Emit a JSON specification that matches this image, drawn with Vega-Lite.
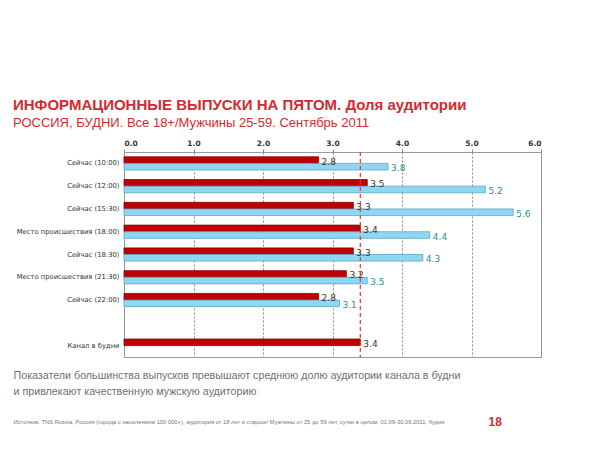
{
  "$schema": "https://vega.github.io/schema/vega-lite/v6.json",
  "width": 417,
  "height": 205,
  "autosize": {"type": "none"},
  "padding": {"left": 124, "top": 152, "right": 62, "bottom": 95},
  "background": "white",
  "title": {
    "text": "ИНФОРМАЦИОННЫЕ ВЫПУСКИ НА ПЯТОМ. Доля аудитории",
    "subtitle": "РОССИЯ, БУДНИ. Все 18+/Мужчины 25-59. Сентябрь 2011",
    "anchor": "start",
    "frame": "group",
    "dx": -111,
    "offset": 9,
    "font": "Liberation Sans",
    "fontSize": 15,
    "fontWeight": "bold",
    "color": "#d42a2f",
    "subtitleFont": "Liberation Sans",
    "subtitleFontSize": 13,
    "subtitleColor": "#d42a2f",
    "subtitlePadding": 4
  },
  "config": {
    "view": {"stroke": "#9a9a9a", "strokeWidth": 1},
    "axis": {"labelFont": "DejaVu Sans", "titleFont": "Liberation Sans"}
  },
  "data": {
    "values": [
      {"label": "Сейчас (10:00)", "series": "Все 18+", "value": 2.8},
      {"label": "Сейчас (10:00)", "series": "Мужчины 25-59", "value": 3.8},
      {"label": "Сейчас (12:00)", "series": "Все 18+", "value": 3.5},
      {"label": "Сейчас (12:00)", "series": "Мужчины 25-59", "value": 5.2},
      {"label": "Сейчас (15:30)", "series": "Все 18+", "value": 3.3},
      {"label": "Сейчас (15:30)", "series": "Мужчины 25-59", "value": 5.6},
      {"label": "Место происшествия (18:00)", "series": "Все 18+", "value": 3.4},
      {"label": "Место происшествия (18:00)", "series": "Мужчины 25-59", "value": 4.4},
      {"label": "Сейчас (18:30)", "series": "Все 18+", "value": 3.3},
      {"label": "Сейчас (18:30)", "series": "Мужчины 25-59", "value": 4.3},
      {"label": "Место происшествия (21:30)", "series": "Все 18+", "value": 3.2},
      {"label": "Место происшествия (21:30)", "series": "Мужчины 25-59", "value": 3.5},
      {"label": "Сейчас (22:00)", "series": "Все 18+", "value": 2.8},
      {"label": "Сейчас (22:00)", "series": "Мужчины 25-59", "value": 3.1},
      {"label": "Канал в будни", "series": "Все 18+", "value": 3.4}
    ]
  },
  "encoding": {
    "y": {
      "field": "label",
      "type": "nominal",
      "scale": {
        "domain": ["Сейчас (10:00)", "Сейчас (12:00)", "Сейчас (15:30)", "Место происшествия (18:00)", "Сейчас (18:30)", "Место происшествия (21:30)", "Сейчас (22:00)", " ", "Канал в будни"],
        "paddingInner": 0.42,
        "paddingOuter": 0.21
      }
    },
    "yOffset": {
      "field": "series",
      "type": "nominal",
      "scale": {"domain": ["Все 18+", "Мужчины 25-59"], "paddingInner": 0}
    }
  },
  "layer": [
    {
      "mark": {"type": "bar", "strokeWidth": 0.8},
      "encoding": {
        "x": {
          "field": "value",
          "type": "quantitative",
          "scale": {"domain": [0, 6], "nice": false, "zero": true},
          "axis": {
            "orient": "top",
            "title": null,
            "values": [0, 1, 2, 3, 4, 5, 6],
            "format": ".1f",
            "labelFontSize": 7.5,
            "labelFontWeight": "bold",
            "labelColor": "#333333",
            "labelPadding": 2,
            "tickSize": 3,
            "tickColor": "#888888",
            "domain": false,
            "grid": true,
            "gridDash": [2, 2],
            "gridColor": "#8a8a8a"
          }
        },
        "y": {
          "field": "label",
          "type": "nominal",
          "axis": {
            "title": "Источник: TNS Russia, Россия (города с населением 100 000+), аудитория от 18 лет и старше/ Мужчины от 25 до 59 лет, сутки в целом, 01.09-30.09.2011, будни",
            "titleAngle": 0,
            "titleAlign": "left",
            "titleBaseline": "middle",
            "titleX": -111,
            "titleY": 269,
            "titleFontSize": 5.8,
            "titleFontWeight": "normal",
            "titleColor": "#777777",
            "labelFontSize": 6.8,
            "labelColor": "#333333",
            "labelPadding": 5,
            "ticks": false,
            "domain": false
          }
        },
        "color": {
          "field": "series",
          "type": "nominal",
          "scale": {"domain": ["Все 18+", "Мужчины 25-59"], "range": ["#c00000", "#8fd6f3"]},
          "legend": null
        },
        "stroke": {
          "field": "series",
          "type": "nominal",
          "scale": {"domain": ["Все 18+", "Мужчины 25-59"], "range": ["#8a0000", "#5da6c6"]},
          "legend": null
        }
      }
    },
    {
      "mark": {"type": "text", "align": "left", "baseline": "middle", "dx": 3, "dy": 1.5, "font": "DejaVu Sans", "fontSize": 9},
      "encoding": {
        "x": {
          "field": "value",
          "type": "quantitative",
          "axis": {
            "orient": "bottom",
            "labels": false,
            "ticks": false,
            "domain": false,
            "grid": false,
            "title": ["Показатели большинства выпусков превышают среднюю долю аудитории канала в будни", "и привлекают качественную мужскую аудиторию"],
            "titleAnchor": "start",
            "titleAlign": "left",
            "titleBaseline": "top",
            "titleX": -111,
            "titleY": 13,
            "titleFontSize": 10.7,
            "titleFontWeight": "normal",
            "titleLineHeight": 16,
            "titleColor": "#707070"
          }
        },
        "y": {
          "field": "label",
          "type": "nominal",
          "axis": {
            "orient": "right",
            "labels": false,
            "ticks": false,
            "domain": false,
            "grid": false,
            "title": "18",
            "titleAngle": 0,
            "titleAlign": "left",
            "titleBaseline": "middle",
            "titleX": -53,
            "titleY": 269,
            "titleFontSize": 12,
            "titleFontWeight": "bold",
            "titleColor": "#d42a2f"
          }
        },
        "text": {"field": "value", "type": "quantitative", "format": ".1f"},
        "color": {
          "field": "series",
          "type": "nominal",
          "scale": {"domain": ["Все 18+", "Мужчины 25-59"], "range": ["#333333", "#2f8c8c"]},
          "legend": null
        }
      }
    },
    {
      "data": {"values": [{"avg": 3.4}]},
      "mark": {"type": "rule", "color": "#e8332e", "strokeDash": [4, 3], "strokeWidth": 1.2},
      "encoding": {
        "x": {"field": "avg", "type": "quantitative", "axis": null},
        "y": null,
        "yOffset": null
      }
    }
  ],
  "resolve": {"axis": {"x": "independent", "y": "independent"}, "scale": {"color": "independent"}}
}
